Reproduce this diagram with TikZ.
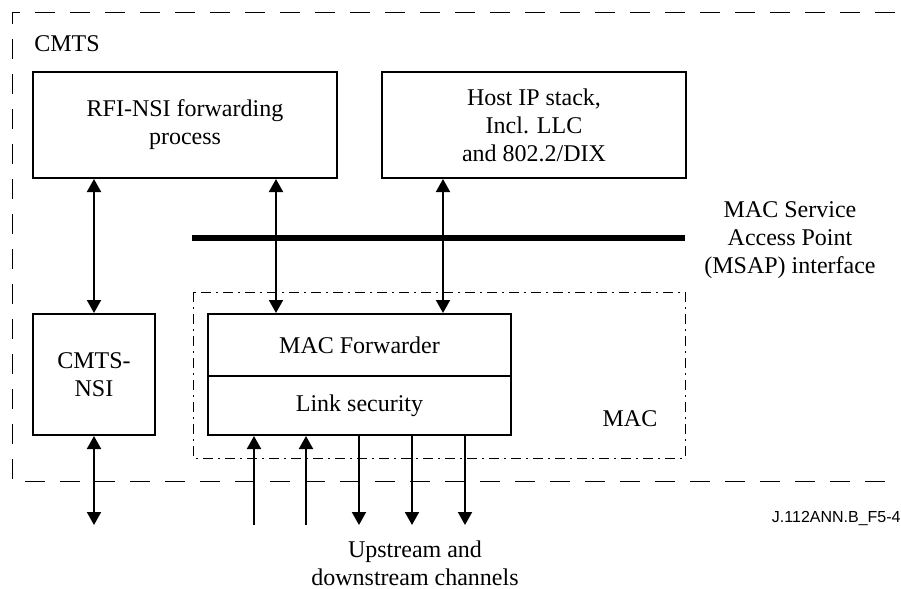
\documentclass[tikz,border=0pt]{standalone}
\usepackage{fontspec}
\setmainfont{Liberation Serif}
\newfontfamily\labelsans{Liberation Sans}
\usetikzlibrary{arrows.meta}
\begin{document}
\begin{tikzpicture}[x=0.5pt,y=-0.5pt,
  txt/.style={font=\fontsize{12pt}{14pt}\selectfont, align=center, inner sep=0pt},
  blk/.style={draw, line width=1pt, inner sep=0pt, font=\fontsize{12pt}{14pt}\selectfont, align=center},
  tip/.style={-{Triangle[width=7pt,length=6.5pt]}},
  conn/.style={line width=1pt},
  dbl/.style={line width=1pt, {Triangle[width=7pt,length=6.5pt]}-{Triangle[width=7pt,length=6.5pt]}},
  outer/.style={line width=0.5pt, dash pattern=on 10pt off 7.5pt},
  macframe/.style={line width=0.5pt, dash pattern=on 5pt off 2.5pt on 1pt off 2.5pt}]
\useasboundingbox (0,0) rectangle (901,589);

% frames
\draw[outer] (895,12) -- (12,12) -- (12,481) -- (895,481);
\draw[macframe] (193,292) rectangle (685,458);

% blocks
\node[blk, minimum width=152pt, minimum height=53pt] (rfi) at (185,125) {RFI-NSI forwarding\\process};
\node[blk, minimum width=152pt, minimum height=53pt] (host) at (534,125) {Host IP stack,\\Incl. LLC\\and 802.2/DIX};
\node[blk, minimum width=61pt, minimum height=60.5pt] (nsi) at (94,374.5) {CMTS-\\NSI};
\node[blk, minimum width=151.5pt, minimum height=31pt] (mf) at (359.5,345) {MAC Forwarder};
\node[blk, minimum width=151.5pt, minimum height=29.5pt] (ls) at (359.5,405.5) {Link security};

% labels
\node[txt, anchor=west] (cmts) at (34,44) {CMTS};
\node[txt] (msap) at (790,240) {MAC Service\\Access Point\\(MSAP) interface};
\node[txt] (mac) at (630,419) {MAC};
\node[txt] (chan) at (415,563) {Upstream and\\downstream channels};
\node[inner sep=0pt, anchor=east, font=\labelsans\fontsize{8pt}{9.6pt}\selectfont] (fig) at (901,519) {J.112ANN.B\_F5-4};

% MSAP bar
\coordinate (barL) at (192,238);
\coordinate (barR) at (685,238);
\draw[line width=3pt] (barL) -- (barR);

% vertical connectors
\coordinate (xa) at (276,0);
\coordinate (xb) at (443,0);
\draw[dbl] (rfi.south -| nsi.north) -- (nsi.north);
\draw[dbl] (rfi.south -| xa) -- (mf.north -| xa);
\draw[dbl] (host.south -| xb) -- (mf.north -| xb);

% external connectors
\coordinate (nsiout) at (94,525);
\draw[dbl] (nsi.south) -- (nsiout);
\coordinate (u1) at (254,525);
\coordinate (u2) at (306,525);
\coordinate (d1) at (359,525);
\coordinate (d2) at (412,525);
\coordinate (d3) at (465,525);
\draw[conn, tip] (u1) -- (ls.south -| u1);
\draw[conn, tip] (u2) -- (ls.south -| u2);
\draw[conn, tip] (ls.south -| d1) -- (d1);
\draw[conn, tip] (ls.south -| d2) -- (d2);
\draw[conn, tip] (ls.south -| d3) -- (d3);
\end{tikzpicture}
\end{document}
